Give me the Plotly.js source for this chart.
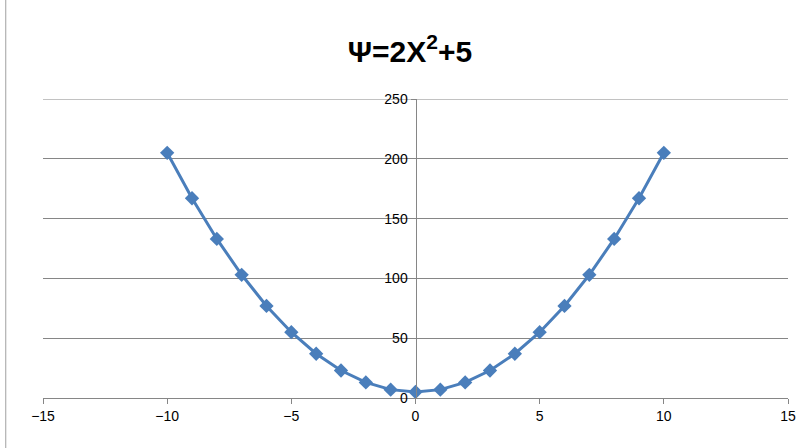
<!DOCTYPE html>
<html><head><meta charset="utf-8">
<script src="https://cdn.plot.ly/plotly-3.0.1.min.js"></script>
<style>body{margin:0;background:#fff}#c{width:807px;height:448px}</style>
</head><body><div id="c"></div>
<script>
const xValues = [-10,-9,-8,-7,-6,-5,-4,-3,-2,-1,0,1,2,3,4,5,6,7,8,9,10];
const psiValues = [205,167,133,103,77,55,37,23,13,7,5,7,13,23,37,55,77,103,133,167,205];
const titleText = 'Ψ=2X<sup>2</sup>+5';
const yMax = 250;

Plotly.newPlot('c', [{
  x: xValues, y: psiValues, type: 'scatter', mode: 'lines+markers',
  line: {color: '#4A7EBB', width: 3},
  marker: {symbol: 'diamond', size: 11, color: '#4A7EBB'},
  showlegend: false
}], {
  width: 807, height: 448,
  margin: {l: 43, r: 19, t: 99, b: 50},
  paper_bgcolor: '#fff', plot_bgcolor: '#fff',
  title: {text: titleText, x: 0.508, xanchor: 'center', y: 0.885, yanchor: 'middle',
          font: {family: 'Liberation Sans, Arial', size: 30, color: '#000', weight: 'bold'}},
  font: {family: 'Liberation Sans, Arial', size: 14, color: '#000'},
  xaxis: {range: [-15, 15], dtick: 5, tick0: -15, showgrid: false, zeroline: false,
          showline: true, linecolor: '#868686', linewidth: 1,
          ticks: 'outside', ticklen: 5, tickcolor: '#868686', anchor: 'y'},
  yaxis: {range: [0, yMax], dtick: 50, showgrid: true, gridcolor: '#868686', gridwidth: 1,
          zeroline: false, showline: true, linecolor: '#868686', linewidth: 1,
          ticks: 'outside', ticklen: 5, tickcolor: '#868686',
          anchor: 'free', position: 0.5},
  shapes: [
    {type: 'line', xref: 'paper', yref: 'y', x0: 0, x1: 1, y0: yMax, y1: yMax,
     layer: 'below', line: {color: '#868686', width: 1}},
    {type: 'line', xref: 'paper', yref: 'paper', x0: -0.05, x1: -0.05, y0: -0.2, y1: 1.4,
     layer: 'above', line: {color: '#a0a0a0', width: 1}}]
}, {displayModeBar: false});
</script></body></html>
